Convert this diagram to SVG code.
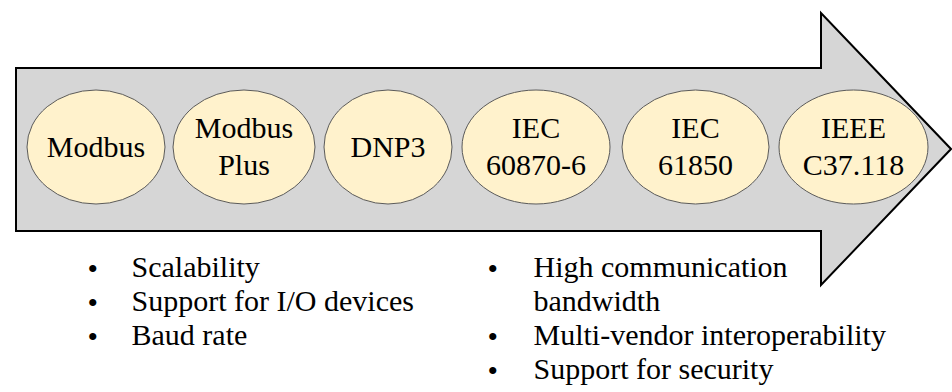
<svg xmlns="http://www.w3.org/2000/svg" width="952" height="392" viewBox="0 0 952 392">
<defs>
<style>
.lbl{text-anchor:middle}
.node ellipse{fill:#fff2cc;stroke:#5a5a5a;stroke-width:1}
</style>
</defs>
<rect width="952" height="392" fill="#fff"/>
<g id="arrow">
<path d="M16,68 H821 V13 L951,149 L821,285 V231 H16 Z" fill="#d6d6d6" stroke="#000" stroke-width="2" stroke-linejoin="miter"/>
</g>
<g id="connectors"></g>
<g font-family="Liberation Serif, Times New Roman, Tinos, serif" font-size="30" fill="#000">
<g id="n-modbus" class="node">
<ellipse cx="96" cy="147" rx="69" ry="57"/>
<text class="lbl" x="96" y="157">Modbus</text>
</g>
<g id="n-modbusplus" class="node">
<ellipse cx="244" cy="147" rx="71" ry="57"/>
<text class="lbl" x="244" y="138">Modbus</text>
<text class="lbl" x="244" y="175">Plus</text>
</g>
<g id="n-dnp3" class="node">
<ellipse cx="388" cy="147" rx="64" ry="57"/>
<text class="lbl" x="388" y="157">DNP3</text>
</g>
<g id="n-iec60870" class="node">
<ellipse cx="536" cy="147" rx="74" ry="57"/>
<text class="lbl" x="536" y="138">IEC</text>
<text class="lbl" x="536" y="175">60870-6</text>
</g>
<g id="n-iec61850" class="node">
<ellipse cx="695.5" cy="147" rx="73.5" ry="57"/>
<text class="lbl" x="695.5" y="138">IEC</text>
<text class="lbl" x="695.5" y="175">61850</text>
</g>
<g id="n-ieee" class="node">
<ellipse cx="853.5" cy="147" rx="74.5" ry="57"/>
<text class="lbl" x="853.5" y="138">IEEE</text>
<text class="lbl" x="853.5" y="175">C37.118</text>
</g>
<g id="list-left">
<text x="87.5" y="279">•</text>
<text x="131.5" y="277">Scalability</text>
<text x="87.5" y="313">•</text>
<text x="131.5" y="311">Support for I/O devices</text>
<text x="87.5" y="347">•</text>
<text x="131.5" y="345">Baud rate</text>
</g>
<g id="list-right">
<text x="487.5" y="279">•</text>
<text x="533.5" y="277">High communication</text>
<text x="533.5" y="311">bandwidth</text>
<text x="487.5" y="347">•</text>
<text x="533.5" y="345">Multi-vendor interoperability</text>
<text x="487.5" y="381">•</text>
<text x="533.5" y="379">Support for security</text>
</g>
</g>
</svg>
